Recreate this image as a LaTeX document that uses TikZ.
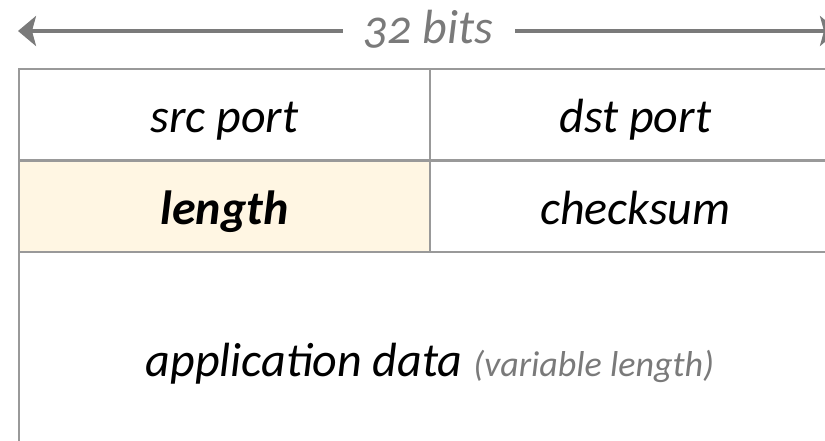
\documentclass[tikz,border=0pt]{standalone}
\usepackage{fontspec}
\setmainfont{Carlito}[Numbers=OldStyle]
\usetikzlibrary{arrows.meta}
\definecolor{rulegray}{HTML}{999999}
\definecolor{labelgray}{HTML}{7A7A7A}
\definecolor{hilite}{HTML}{FFF6E3}
\tikzset{
  cellfont/.style={font=\fontsize{48}{56}\selectfont\itshape, text height=46pt, text depth=10pt},
  cell/.style={draw=rulegray, line width=1.8pt, rectangle, inner sep=0pt,
    minimum width=411pt, minimum height=91pt, cellfont, anchor=north west},
  span/.style={line width=4.5pt, draw=labelgray, fill=labelgray,
    arrows={-Stealth[length=18pt,width=30pt,inset=4pt]}}
}
\begin{document}
\begin{tikzpicture}[x=1pt,y=-1pt]
  \useasboundingbox (0,0) rectangle (825,441);
  \clip (0,0) rectangle (825,441);
  % header rows
  \node[cell] (src) at (18,68) {src port};
  \node[cell] (dst) at (429,68) {dst port};
  \node[cell, fill=hilite] (len) at (18,160) {\bfseries length};
  \node[cell] (chk) at (429,160) {checksum};
  % payload
  \node[cell, minimum width=822pt, minimum height=214pt] (data) at (18,251)
    {application data {\fontsize{36}{42}\selectfont\color{labelgray} (variable length)}};
  % width marker
  \node[cellfont, text=labelgray, inner sep=0pt] (bits) at (428,26) {32 bits};
  \coordinate (lend) at (18,31);
  \coordinate (rend) at (838,31);
  \draw[span] ([xshift=-20pt]bits.west |- lend) -- (lend);
  \draw[span] ([xshift=22pt]bits.east |- rend) -- (rend);
\end{tikzpicture}
\end{document}
